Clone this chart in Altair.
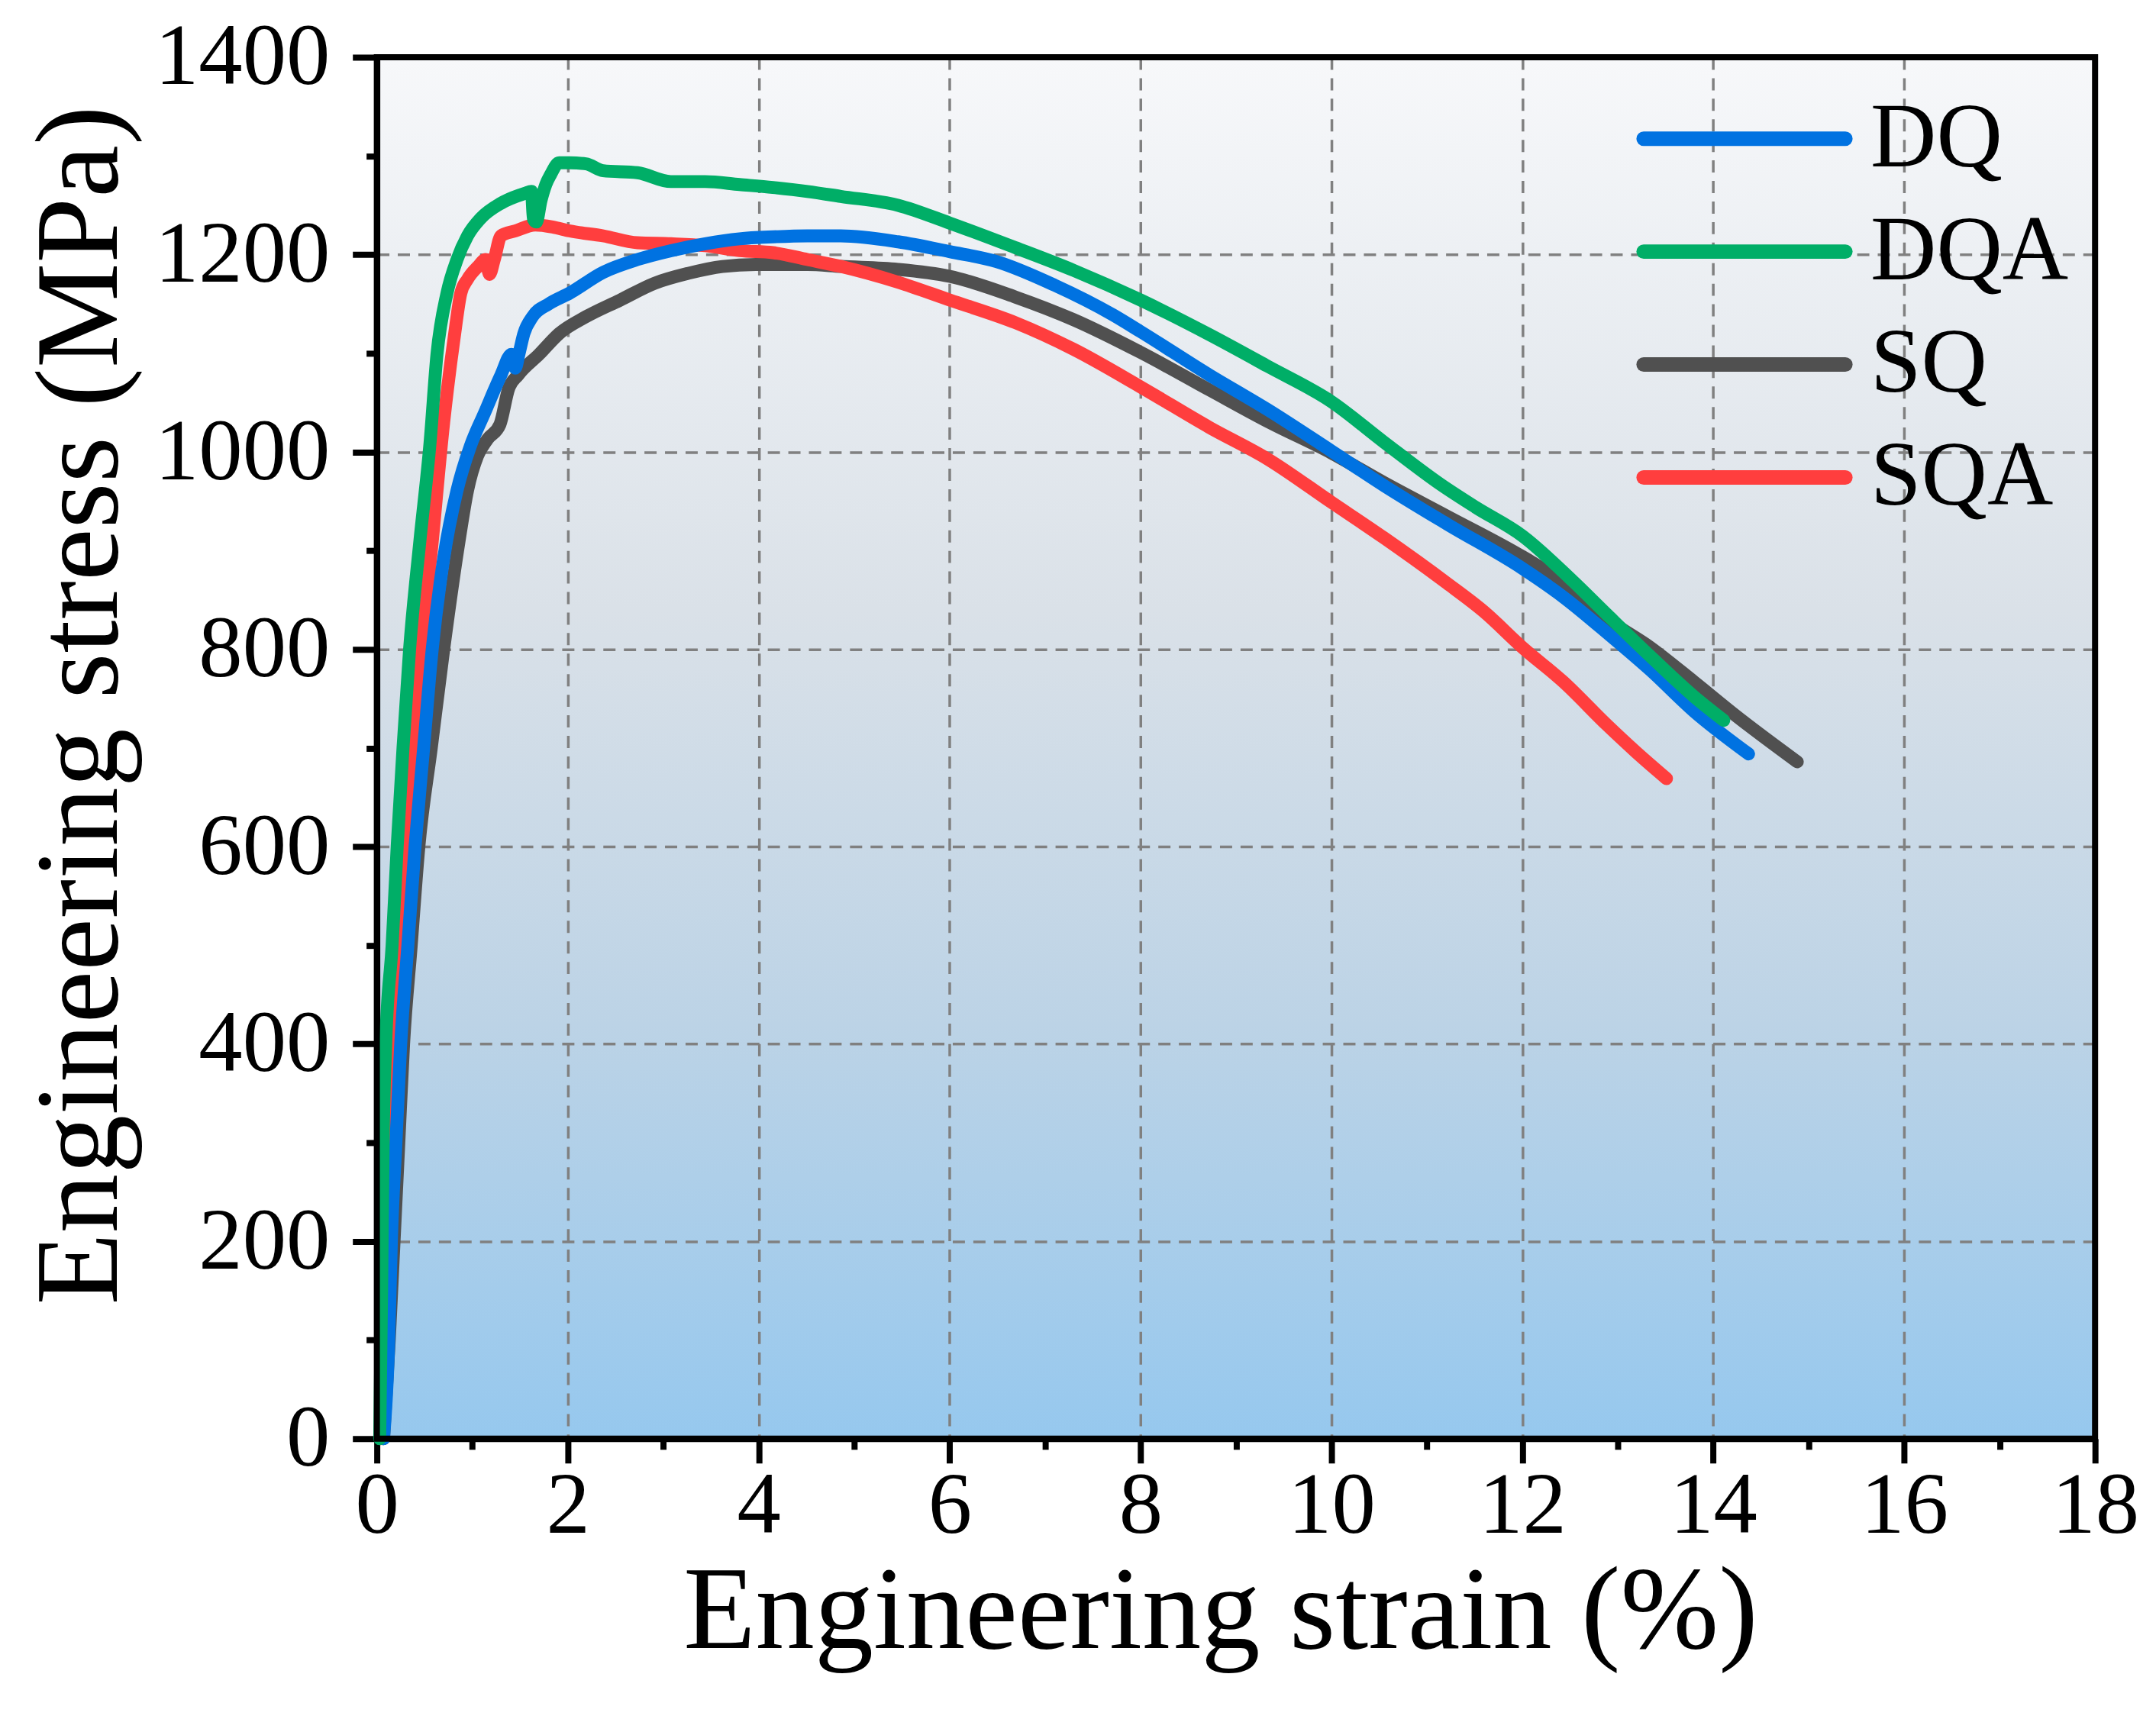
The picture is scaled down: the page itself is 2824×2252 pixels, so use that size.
import altair as alt
import pandas as pd

SERIES = ['DQ', 'DQA', 'SQ', 'SQA']
COLORS = ['#0072e1', '#00ae67', '#505050', '#ff3e3e']
DRAW_ORDER = ['SQ', 'SQA', 'DQ', 'DQA']

# engineering strain (%) / engineering stress (MPa)
dq_strain = [0.07, 0.125, 0.152, 0.20, 0.25, 0.325, 0.40, 0.49, 0.58, 0.70, 0.84, 0.98, 1.13, 1.30,
             1.41, 1.45, 1.49, 1.54, 1.63, 1.80, 2.02, 2.37, 2.73, 3.08, 3.44, 3.80, 4.15, 4.51,
             4.86, 5.46, 6.0, 6.49, 7.1, 7.71, 8.0, 8.72, 9.33, 10.0, 10.55, 11.21, 12.0, 12.43,
             12.92, 13.34, 13.8, 14.37]
dq_stress = [0, 100, 200, 300, 400, 500, 600, 700, 800, 892, 961, 1006, 1040, 1078,
             1099, 1085, 1100, 1120, 1137, 1150, 1161, 1182, 1195, 1204, 1211, 1216, 1218, 1219,
             1219, 1213, 1203, 1193, 1169, 1139, 1122, 1078, 1043, 1001, 966, 927, 882, 853,
             814, 779, 737, 694]

dqa_strain = [0.03, 0.05, 0.066, 0.093, 0.16, 0.213, 0.274, 0.343, 0.45, 0.557, 0.63, 0.735, 0.84,
              0.95, 1.09, 1.30, 1.55, 1.62, 1.64, 1.67, 1.72, 1.77, 1.82, 1.91, 2.02, 2.19, 2.37,
              2.73, 3.08, 3.44, 3.80, 4.15, 4.51, 4.86, 5.46, 6.0, 6.69, 7.3, 8.0, 8.72, 9.33,
              10.0, 10.55, 11.16, 11.51, 12.0, 12.52, 12.89, 13.34, 13.8, 14.11]
dqa_stress = [0, 150, 300, 400, 500, 600, 700, 800, 909, 1009, 1099, 1161, 1195,
              1219, 1237, 1252, 1262, 1264, 1236, 1233, 1255, 1271, 1281, 1293, 1293, 1292, 1285,
              1283, 1274, 1274, 1271, 1268, 1264, 1259, 1250, 1232, 1207, 1184, 1154, 1119, 1087,
              1051, 1010, 966, 944, 915, 870, 835, 793, 752, 728]

sq_strain = [0.07, 0.13, 0.18, 0.23, 0.28, 0.36, 0.44, 0.57, 0.70, 0.86, 0.95, 1.055, 1.16, 1.29,
             1.38, 1.48, 1.70, 1.91, 2.19, 2.55, 2.91, 3.26, 3.62, 3.97, 4.51, 4.86, 5.46, 6.0,
             6.69, 7.3, 8.0, 8.72, 9.33, 10.0, 10.55, 11.21, 12.0, 12.52, 12.92, 13.34, 13.8,
             14.26, 14.88]
sq_stress = [0, 100, 200, 300, 400, 500, 600, 700, 800, 909, 961, 996, 1013, 1028,
             1064, 1078, 1099, 1120, 1137, 1154, 1171, 1181, 1188, 1190, 1190, 1188, 1185, 1178,
             1157, 1134, 1101, 1063, 1031, 999, 969, 935, 894, 862, 829, 802, 767,
             731, 686]

sqa_strain = [0.04, 0.07, 0.09, 0.106, 0.16, 0.226, 0.306, 0.385, 0.47, 0.58, 0.70, 0.81, 0.88,
              0.95, 1.06, 1.14, 1.18, 1.23, 1.30, 1.45, 1.66, 1.84, 2.02, 2.37, 2.73, 3.08, 3.44,
              3.80, 4.15, 4.51, 4.86, 5.46, 6.0, 6.69, 7.3, 8.0, 8.72, 9.33, 10.0, 10.55, 11.21,
              11.6, 12.0, 12.43, 12.89, 13.19, 13.51]
sqa_stress = [0, 100, 200, 294, 400, 500, 600, 700, 800, 909, 1030, 1116, 1161,
              1175, 1188, 1195, 1180, 1195, 1219, 1224, 1230, 1228, 1224, 1219, 1212, 1211, 1209,
              1204, 1202, 1195, 1188, 1172, 1154, 1131, 1104, 1066, 1025, 993, 949, 913, 867,
              838, 802, 767, 723, 696, 669]

rows = []
for name, xs, ys in [('DQ', dq_strain, dq_stress), ('DQA', dqa_strain, dqa_stress),
                     ('SQ', sq_strain, sq_stress), ('SQA', sqa_strain, sqa_stress)]:
    for i, (sx, sy) in enumerate(zip(xs, ys)):
        rows.append({'series': name, 'strain': sx, 'stress': sy, 'idx': i})
curves = pd.DataFrame(rows)

W, H = 2257, 1815
FONT = 'Liberation Serif'

color_scale = alt.Scale(domain=SERIES, range=COLORS)

x_axis = alt.Axis(
    title='Engineering strain (%)', values=list(range(0, 19)), format='d',
    labelExpr="datum.value % 2 == 0 ? datum.label : ''",
    tickSize={'condition': {'test': 'datum.value % 2 == 0', 'value': 32}, 'value': 14},
    gridOpacity={'condition': {'test': 'datum.value % 2 == 0', 'value': 1}, 'value': 0},
    labelFlush=False, labelOverlap=False, labelPadding=0,
    titleBaseline='alphabetic', titleX=1108, titleY=274,
)
y_axis = alt.Axis(
    title='Engineering stress (MPa)', values=list(range(0, 1401, 100)), format='d',
    labelExpr="datum.value % 200 == 0 ? datum.label : ''",
    tickSize={'condition': {'test': 'datum.value % 200 == 0', 'value': 32}, 'value': 14},
    gridOpacity={'condition': {'test': 'datum.value % 200 == 0', 'value': 1}, 'value': 0},
    labelFlush=False, labelOverlap=False, labelLimit=600, labelPadding=30,
    titleBaseline='alphabetic', titleX=-342, titleY=851,
)

base = alt.Chart(curves).mark_line(
    strokeWidth=17, strokeCap='round', strokeJoin='round', interpolate='monotone'
).encode(
    x=alt.X('strain:Q', scale=alt.Scale(domain=[0, 18], nice=False), axis=x_axis),
    y=alt.Y('stress:Q', scale=alt.Scale(domain=[0, 1400], nice=False), axis=y_axis),
    color=alt.Color('series:N', scale=color_scale, legend=None),
    order='idx:Q',
)
lines = alt.layer(*[base.transform_filter(alt.datum.series == s) for s in DRAW_ORDER])

# top and right frame of the plot box
frame = alt.Chart(pd.DataFrame({'f': [0]})).mark_rect(
    filled=False, stroke='black', strokeWidth=8
).encode(x=alt.value(0), x2=alt.value(W), y=alt.value(0), y2=alt.value(H))

legend_df = pd.DataFrame({'series': SERIES})
legend_y = alt.Y('series:N', scale=alt.Scale(type='point', domain=SERIES, range=[107, 552], padding=0),
                 axis=None)
legend_lines = alt.Chart(legend_df).mark_rule(strokeWidth=19, strokeCap='round').encode(
    x=alt.value(1664), x2=alt.value(1929), y=legend_y,
    color=alt.Color('series:N', scale=color_scale, legend=None),
)
legend_text = alt.Chart(legend_df).mark_text(
    align='left', baseline='middle', font=FONT, fontSize=120, color='black'
).encode(x=alt.value(1962), y=legend_y, text='series:N')

bg = ("{gradient: 'linear', x1: 0, y1: 0, x2: 0, y2: 1, stops: ["
      "{offset: 0, color: '#f7f8fa'}, {offset: 0.4, color: '#dae1e8'}, "
      "{offset: 0.7, color: '#bcd3e6'}, {offset: 1, color: '#96c8ee'}]}")

chart = alt.layer(lines, frame, legend_lines, legend_text).resolve_scale(y='independent').properties(
    width=W, height=H,
    autosize=alt.AutoSizeParams(type='none'),
    padding={'left': 487, 'top': 64, 'right': 72, 'bottom': 365},
    background='white',
).configure_view(
    fill={'expr': bg}, stroke=None,
).configure_axis(
    domainColor='black', domainWidth=8, tickColor='black', tickWidth=8,
    gridColor='#808080', gridWidth=3.5, gridDash=[16, 11],
    labelFont=FONT, labelFontSize=115, labelColor='black',
    titleFont=FONT, titleFontSize=155, titleFontWeight='normal', titleColor='black',
)

chart.save('out.html', embed_options={'renderer': 'svg', 'actions': False})
